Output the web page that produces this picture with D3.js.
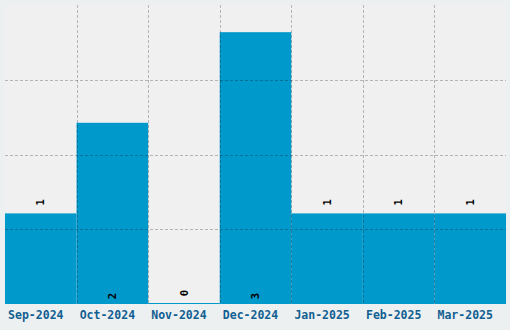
<!DOCTYPE html>
<html>
<head>
<meta charset="utf-8">
<script src="https://cdn.jsdelivr.net/npm/d3@7"></script>
<style>
  body { margin: 0; background: #ecf0f1; }
  svg { display: block; }
</style>
</head>
<body>
<div id="plot"></div>
<script>
// data
const months = ["Sep-2024", "Oct-2024", "Nov-2024", "Dec-2024", "Jan-2025", "Feb-2025", "Mar-2025"];
const counts = [1, 2, 0, 3, 1, 1, 1];

const width = 510, height = 330;
const margin = { top: 5, right: 4, bottom: 26, left: 5 };

const svg = d3.select("#plot").append("svg")
  .attr("width", width)
  .attr("height", height);

const x = d3.scaleBand()
  .domain(months)
  .range([margin.left, width - margin.right])
  .padding(0);

const y = d3.scaleLinear()
  .domain([0, d3.max(counts) * 1.1])
  .range([height - margin.bottom, margin.top]);

// plot background
svg.append("rect")
  .attr("x", margin.left)
  .attr("y", margin.top)
  .attr("width", width - margin.left - margin.right)
  .attr("height", height - margin.top - margin.bottom)
  .attr("fill", "#f0f0f0");

// bars (a zero still shows as a 1px line)
svg.selectAll(".bar")
  .data(months)
  .enter()
  .append("rect")
  .attr("class", "bar")
  .attr("x", d => x(d))
  .attr("width", x.bandwidth())
  .attr("y", (d, i) => Math.min(y(counts[i]), y(0) - 1))
  .attr("height", (d, i) => Math.max(y(0) - y(counts[i]), 1))
  .attr("fill", "#0099cc");

// grid on top: 4 equal rows, lines on band edges
const plotH = y(0) - margin.top;
const grid = svg.append("g")
  .attr("stroke", "#000")
  .attr("stroke-opacity", 0.25)
  .attr("stroke-dasharray", "3,2");

d3.range(1, 4).forEach(k => {
  const yy = Math.round(margin.top + plotH * k / 4) + 0.5;
  grid.append("line")
    .attr("x1", margin.left).attr("x2", width - margin.right)
    .attr("y1", yy).attr("y2", yy);
});
months.slice(1).forEach(m => {
  const xx = Math.round(x(m)) + 0.5;
  grid.append("line")
    .attr("x1", xx).attr("x2", xx)
    .attr("y1", margin.top).attr("y2", y(0));
});

// value labels, rotated
svg.selectAll(".val")
  .data(months)
  .enter()
  .append("text")
  .attr("class", "val")
  .attr("transform", (d, i) => {
    const cx = x(d) + x.bandwidth() / 2;
    const cy = counts[i] >= 2 ? y(0) - 8 : y(counts[i]) - 11;
    return `translate(${cx},${cy}) rotate(-90)`;
  })
  .attr("text-anchor", "middle")
  .attr("dy", "0.35em")
  .style("font-family", "'DejaVu Sans Mono', monospace")
  .style("font-weight", "bold")
  .style("font-size", "10.5px")
  .attr("fill", "#000")
  .text((d, i) => counts[i]);

// x axis
const xAxis = svg.append("g")
  .attr("transform", `translate(0,${y(0)})`)
  .call(d3.axisBottom(x).tickSize(0).tickPadding(7));
xAxis.select(".domain").remove();
xAxis.selectAll("text")
  .attr("dx", -5)
  .style("font-family", "'DejaVu Sans Mono', monospace")
  .style("font-weight", "bold")
  .style("font-size", "11.5px")
  .attr("fill", "#125f91");
</script>
</body>
</html>
